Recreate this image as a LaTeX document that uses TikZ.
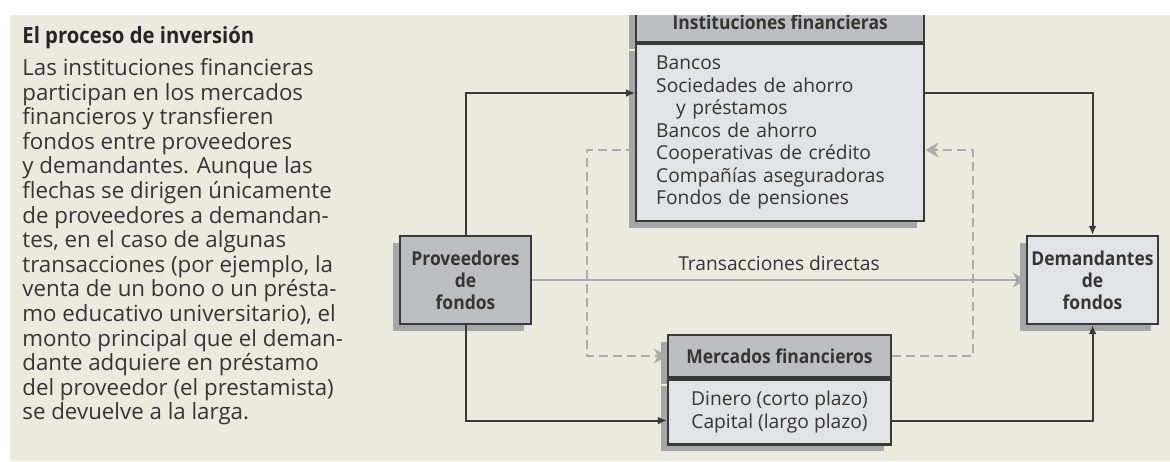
\documentclass[tikz,border=0pt]{standalone}
\usepackage{fontspec}
\setmainfont{Open Sans}[BoldFeatures={FakeStretch=0.91}]
\usetikzlibrary{positioning,arrows.meta,shadows}
\definecolor{paper}{RGB}{235,234,223}
\definecolor{boxdark}{RGB}{189,190,193}
\definecolor{boxlight}{RGB}{226,227,230}
\definecolor{edge}{RGB}{58,58,58}
\definecolor{shade}{RGB}{165,166,168}
\definecolor{faint}{RGB}{172,172,172}
\definecolor{ink}{RGB}{55,52,52}

\begin{document}
\begin{tikzpicture}[x=0.5pt, y=-0.5pt,
  font=\fontsize{9.6pt}{11.25pt}\selectfont, text=ink,
  shd/.style={general shadow={fill=shade, shadow xshift=-3.5pt, shadow yshift=-3.5pt}},
  hdr/.style={draw=edge, line width=1.2pt, fill=boxdark, shd, inner sep=0pt,
              font=\fontsize{9.6pt}{11pt}\selectfont\bfseries},
  lst/.style={draw=edge, line width=1.2pt, fill=boxlight, shd},
  party/.style={draw=edge, line width=1.2pt, shd, align=center, inner sep=0pt,
                minimum width=65.5pt, minimum height=44pt,
                font=\fontsize{9.6pt}{11pt}\selectfont\bfseries},
  flow/.style={-{Latex[length=4.5pt,width=4pt]}, line width=1pt, draw=edge},
  direct/.style={-{Stealth[length=6.5pt,width=7.5pt,inset=2pt]}, line width=1pt, draw=faint},
  back/.style={direct, dash pattern=on 4.5pt off 2.5pt}]

\useasboundingbox (0,0) rectangle (1170,461);
\fill[paper] (10,15) rectangle (1170,461);

\begin{scope}
\clip (10,15) rectangle (1170,461);

% side text
\node[anchor=base west, inner sep=0pt, text=black!85,
      font=\fontsize{11.15pt}{12pt}\selectfont\bfseries] (ttl) at (22,43)
  {El proceso de inversión};
\node[anchor=north west, inner sep=0pt, align=left,
      font=\fontsize{11.15pt}{12.3pt}\selectfont] (txt) at (22,58)
  {Las instituciones financieras\\participan en los mercados\\financieros y transfieren\\
   fondos entre proveedores\\y demandantes. Aunque las\\flechas se dirigen únicamente\\
   de proveedores a demandan-\\tes, en el caso de algunas\\transacciones (por ejemplo, la\\
   venta de un bono o un présta-\\mo educativo universitario), el\\monto principal que el deman-\\
   dante adquiere en préstamo\\del proveedor (el prestamista)\\se devuelve a la larga.};

% boxes
\node[hdr, minimum width=144pt, minimum height=20pt, anchor=south west] (ihead) at (635,43)
  {Instituciones financieras};
\node[lst, below=0pt of ihead, text width=124pt, inner xsep=10pt, inner ysep=0pt,
      minimum height=88.5pt, align=left] (ibody)
  {Bancos\\Sociedades de ahorro\\\hspace*{10pt}y préstamos\\Bancos de ahorro\\
   Cooperativas de crédito\\Compañías aseguradoras\\Fondos de pensiones};

\node[party, fill=boxdark] (prov) at (465.5,280) {Proveedores\\de\\fondos};
\node[party, fill=boxlight] (dem) at (1092.5,280) {Demandantes\\de\\fondos};

\node[hdr, minimum width=111.5pt, minimum height=21pt] (mhead) at (779.5,356)
  {Mercados financieros};
\node[lst, below=0pt of mhead, minimum width=111.5pt, minimum height=32.5pt,
      inner sep=0pt, align=center] (mbody)
  {Dinero (corto plazo)\\Capital (largo plazo)};

% arrows
\draw[flow] (prov.north) |- ([yshift=-25pt]ibody.north west);
\draw[flow] ([yshift=-25pt]ibody.north east) -| (dem.north);
\draw[flow] (prov.south) |- ([yshift=12.5pt]mbody.south west);
\draw[flow] ([yshift=12.5pt]mbody.south east) -| (dem.south);
\draw[direct] (prov.east) -- node[above=1pt] (dlab) {Transacciones directas} (dem.west);
\draw[back] ([yshift=-53.5pt]ibody.north west) -- ++(-24pt,0) |- (mhead.west);
\draw[back] (mhead.east) -- ++(40.5pt,0) |- ([yshift=-53.5pt]ibody.north east);
\end{scope}
\end{tikzpicture}
\end{document}
